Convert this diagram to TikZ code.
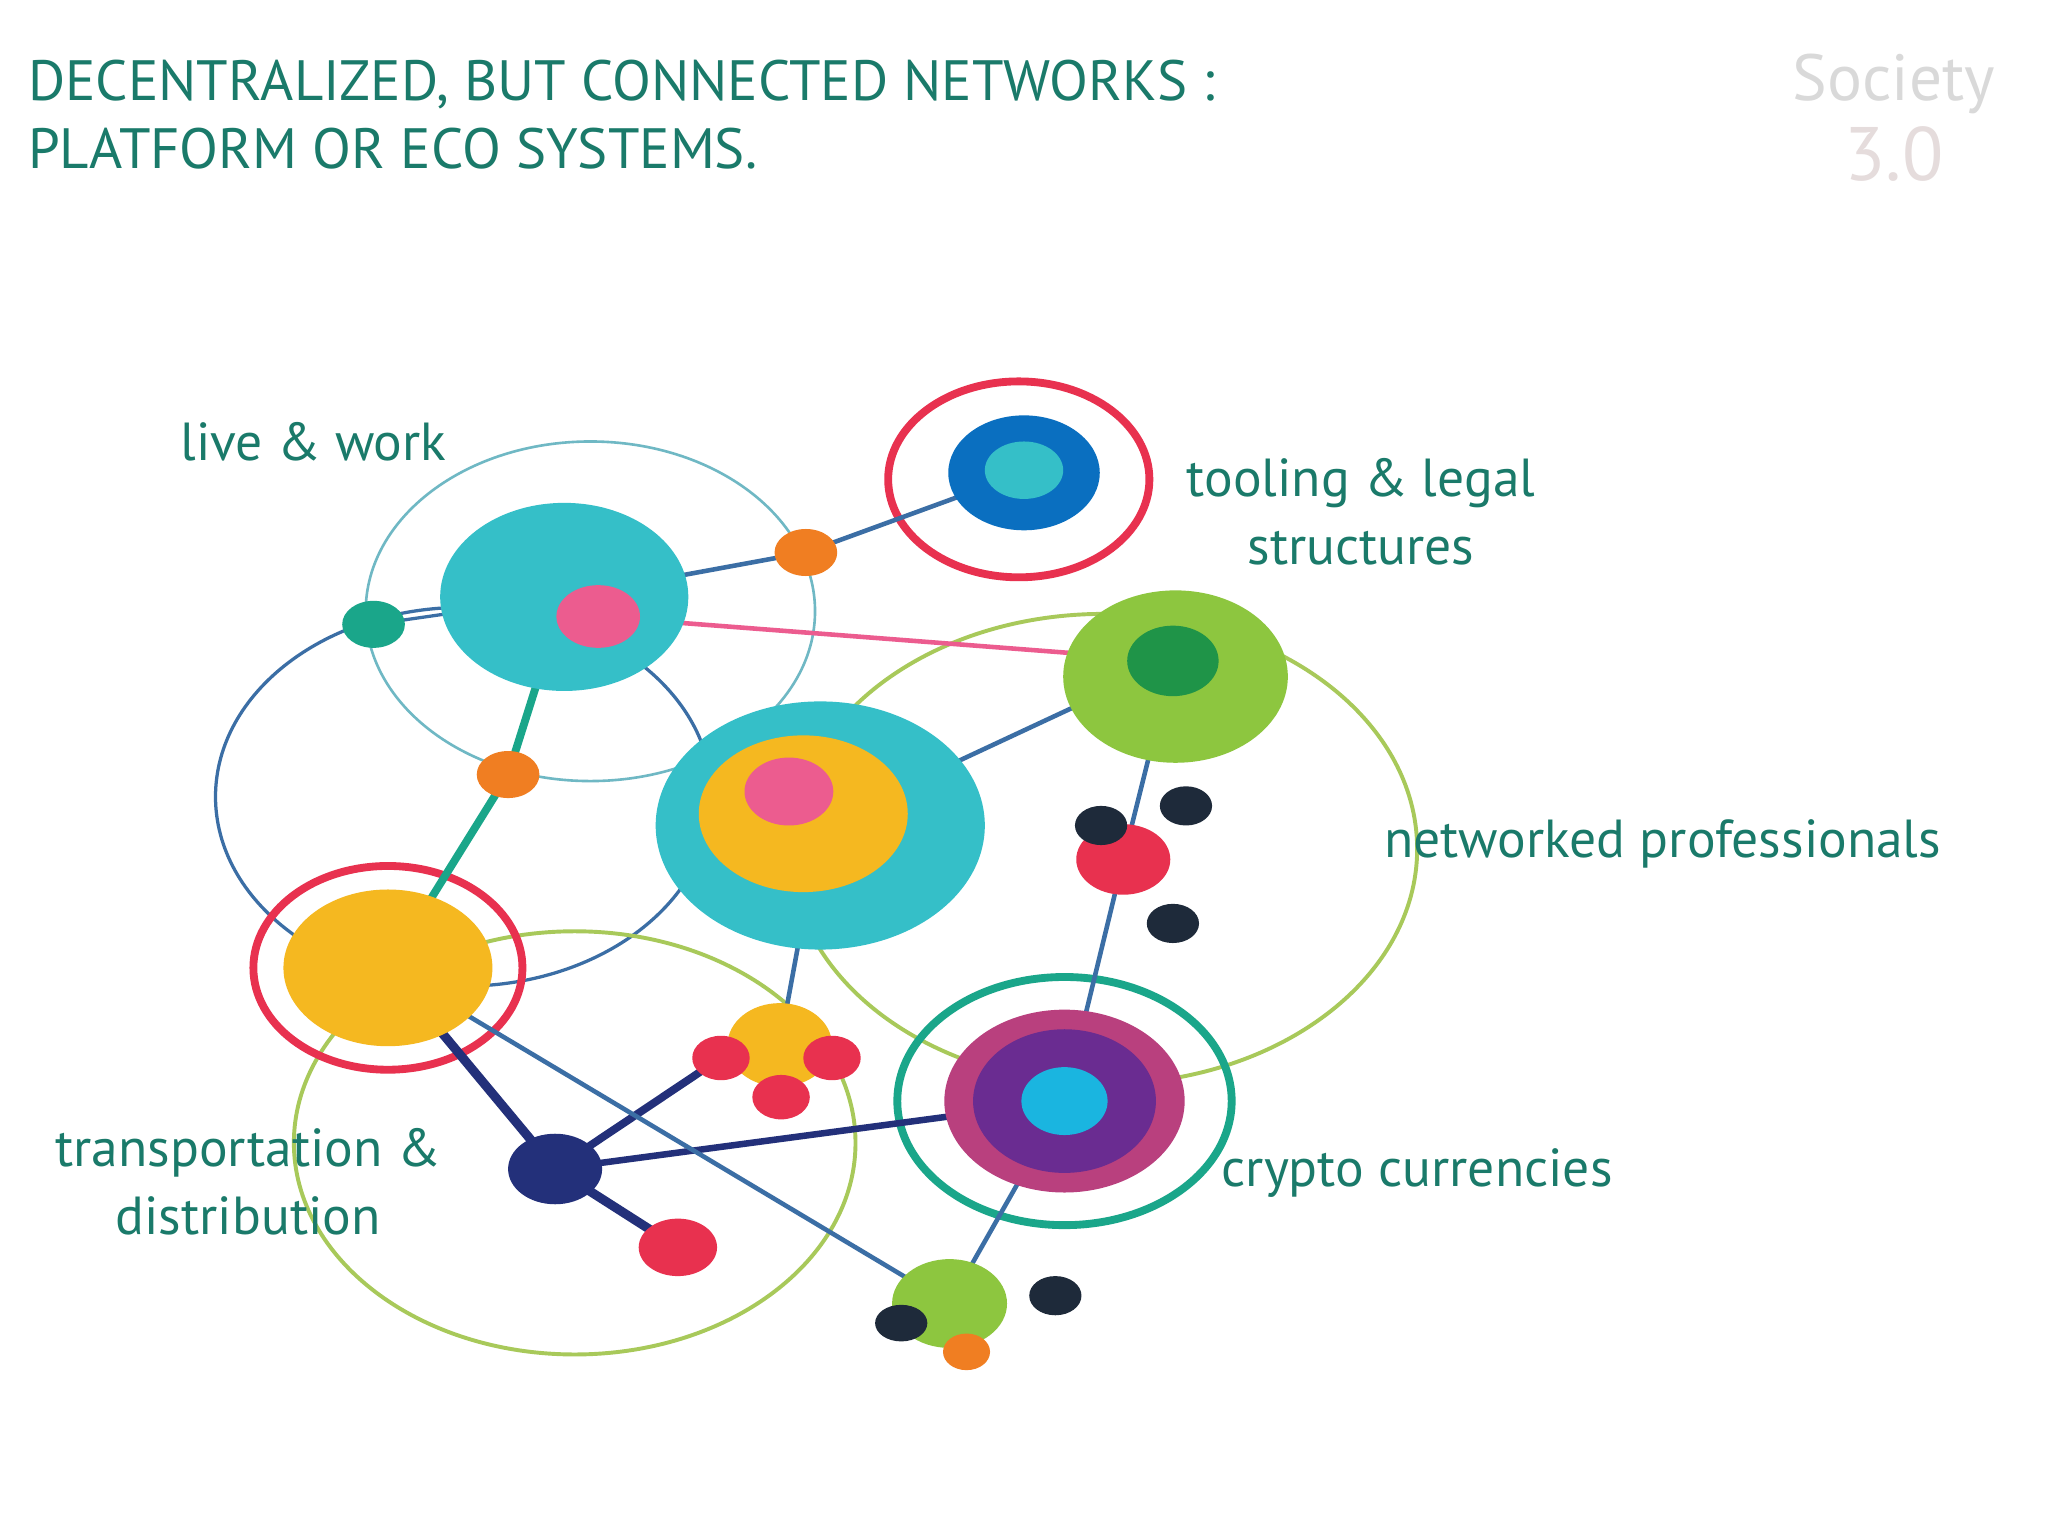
\documentclass[tikz,border=0pt]{standalone}
\usepackage{fontspec}
\setmainfont{PT Sans}
\usetikzlibrary{shapes.geometric}
\pgfdeclarelayer{bg}
\pgfsetlayers{bg,main}
\definecolor{tealtxt}{HTML}{1A7A6A}
\definecolor{cteal}{HTML}{35BFC8}
\definecolor{cpink}{HTML}{EC5C8F}
\definecolor{cblue}{HTML}{0A6FC0}
\definecolor{cgreen}{HTML}{8DC63F}
\definecolor{cdgreen}{HTML}{1F9448}
\definecolor{cyel}{HTML}{F5B820}
\definecolor{cmag}{HTML}{B9407E}
\definecolor{cpur}{HTML}{6A2C91}
\definecolor{ccyan}{HTML}{1AB5E0}
\definecolor{cred}{HTML}{E8314F}
\definecolor{cdark}{HTML}{1E2A3A}
\definecolor{cnavy}{HTML}{23307A}
\definecolor{corange}{HTML}{F07E22}
\definecolor{csea}{HTML}{1AA68A}
\definecolor{lblue}{HTML}{3B6EA5}
\definecolor{lgreen}{HTML}{A8C95A}
\definecolor{lteal}{HTML}{6FB8C4}
\tikzset{
 blob/.style n args={3}{ellipse,fill=#1,minimum width=#2pt,minimum height=#3pt,inner sep=0pt},
 ring/.style n args={4}{ellipse,draw=#1,line width=#4pt,minimum width=#2pt,minimum height=#3pt,inner sep=0pt},
 lbl/.style={text=tealtxt,font=\fontsize{41}{52}\selectfont,align=center},
 link/.style={draw=lblue,line width=3.5pt},
}
\begin{document}
\begin{tikzpicture}[x=1pt,y=-1pt]
\useasboundingbox (0,0) rectangle (1568,1176);
\node[anchor=west,text=tealtxt,font=\fontsize{43.5}{52}\selectfont,align=left] (title) at (18,88) {DECENTRALIZED, BUT CONNECTED NETWORKS :\\PLATFORM OR ECO SYSTEMS.};
\node[text=black!15,font=\fontsize{50}{50}\selectfont] (logo1) at (1450,64) {Society};
\node[text=pink!60!black!25,font=\fontsize{58}{58}\selectfont] (logo2) at (1450,118) {3.0};
% fills
\node[blob={cteal}{190}{144}] (lw) at (432,457) {};
\node[blob={cpink}{64}{48}] (lwp) at (458,472) {};
\node[blob={cblue}{116}{88}] (tl) at (784,362) {};
\node[blob={cteal}{60}{44}] (tli) at (784,360) {};
\node[blob={cgreen}{172}{132}] (np) at (900,518) {};
\node[blob={cdgreen}{70}{54}] (npi) at (898,506) {};
\node[blob={cteal}{252}{190}] (ce) at (628,632) {};
\node[blob={cyel}{160}{120}] (cey) at (615,623) {};
\node[blob={cpink}{68}{52}] (cep) at (604,606) {};
\node[blob={cyel}{160}{120}] (ye) at (297,741) {};
\node[blob={cmag}{184}{140}] (cr) at (815,843) {};
\node[blob={cpur}{140}{110}] (crp) at (815,843) {};
\node[blob={ccyan}{66}{52}] (crc) at (815,843) {};
\node[blob={csea}{48}{36}] (s1) at (286,478) {};
\node[blob={corange}{48}{36}] (o1) at (617,423) {};
\node[blob={corange}{48}{36}] (o2) at (389,593) {};
\node[blob={cred}{72}{54}] (r1) at (860,658) {};
\node[blob={cdark}{40}{30}] (d1) at (843,632) {};
\node[blob={cdark}{40}{30}] (d2) at (908,617) {};
\node[blob={cdark}{40}{30}] (d3) at (898,707) {};
\node[blob={cyel}{80}{64}] (sy) at (597,800) {};
\node[blob={cred}{44}{34}] (sr1) at (552,810) {};
\node[blob={cred}{44}{34}] (sr2) at (637,810) {};
\node[blob={cred}{44}{34}] (sr3) at (598,840) {};
\node[blob={cnavy}{72}{54}] (nv) at (425,895) {};
\node[blob={cred}{60}{44}] (r2) at (519,955) {};
\node[blob={cgreen}{88}{68}] (gs) at (727,998) {};
\node[blob={corange}{36}{28}] (o3) at (740,1035) {};
\node[blob={cdark}{40}{28}] (d4) at (690,1013) {};
\node[blob={cdark}{40}{30}] (d5) at (808,992) {};
\begin{pgfonlayer}{bg}
\fill[white] (0,0) rectangle (1568,1176);
\node[ring={lteal}{344}{260}{2}] (c1) at (452,468) {};
\node[ring={lblue}{380}{290}{2.5}] (c2) at (355,610) {};
\node[ring={lgreen}{480}{360}{3}] (c3) at (845,650) {};
\node[ring={lgreen}{430}{324}{3}] (c4) at (440,875) {};
\node[ring={csea}{256}{190}{6}] (c5) at (815,843) {};
\node[ring={cred}{200}{150}{6}] (c6) at (780,367) {};
\node[ring={cred}{206}{156}{6}] (c7) at (297,741) {};
\draw[link,line width=2.5pt] (s1.center) -- (lw.center);
\draw[link] (lw.center) -- (o1.center) -- (tl.center);
\draw[draw=cpink,line width=3.5pt] (lwp.center) -- (npi.center);
\draw[draw=csea,line width=6pt] (lw.center) -- (o2.center) -- (ye.center);
\draw[link] (ce.center) -- (npi.center);
\draw[link] (npi.center) -- (r1.center) -- (cr.center);
\draw[link] (ce.center) -- (sy.center);
\draw[draw=cnavy,line width=7pt] (ye.center) -- (nv.center) -- (r2.center);
\draw[draw=cnavy,line width=6pt] (nv.center) -- (sr1.center);
\draw[draw=cnavy,line width=5pt] (nv.center) -- (cr.center);
\draw[link] (ye.center) -- (gs.center);
\draw[link] (cr.center) -- (gs.center);
\end{pgfonlayer}
% labels
\node[lbl] (l1) at (240,338) {live \& work};
\node[lbl] (l2) at (1042,392) {tooling \& legal\\structures};
\node[lbl] (l3) at (1273,646) {networked professionals};
\node[lbl] (l4) at (190,905) {transportation \&\\distribution};
\node[lbl] (l5) at (1085,898) {crypto currencies};
\end{tikzpicture}
\end{document}
